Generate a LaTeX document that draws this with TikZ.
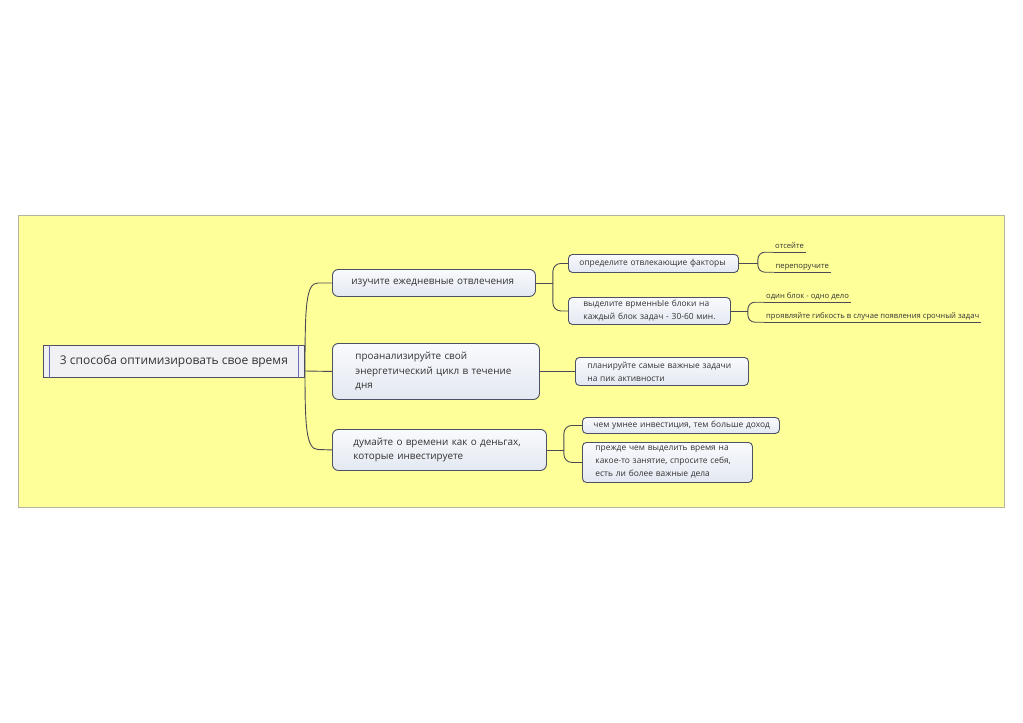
\documentclass[tikz,border=0pt]{standalone}
\usepackage{fontspec}
\setmainfont{Open Sans}
\definecolor{bgyellow}{HTML}{FFFF99}
\definecolor{bgline}{HTML}{B4B4A0}
\definecolor{boxline}{HTML}{4C5164}
\definecolor{boxtop}{HTML}{F9FAFD}
\definecolor{boxbot}{HTML}{E3E8F1}
\definecolor{rootfill}{HTML}{F1F1F3}
\definecolor{rootbar}{HTML}{6C6CB0}
\definecolor{linec}{HTML}{4A4A55}
\definecolor{txt}{HTML}{333333}
\begin{document}
\begin{tikzpicture}[x=1pt,y=-1pt,
  conn/.style={draw=linec, line width=0.9pt},
  root/.style={draw=boxline, line width=0.9pt, fill=rootfill, inner sep=0pt,
    font=\fontsize{12}{14}\selectfont, text=txt, anchor=north west},
  topic/.style={draw=boxline, line width=0.9pt, rounded corners=6pt,
    top color=boxtop, bottom color=boxbot, inner ysep=0pt, align=left,
    anchor=north west, text=txt, font=\fontsize{9.9}{14.5}\selectfont},
  sub/.style={topic, rounded corners=4pt, font=\fontsize{8.4}{13}\selectfont},
  leaf/.style={inner xsep=2pt, inner ysep=2pt, text depth=1.5pt, anchor=base west,
    text=txt, font=\fontsize{7.65}{9}\selectfont}]
\useasboundingbox (0,0) rectangle (1023,723);
\fill[white] (0,0) rectangle (1023,723);
\draw[fill=bgyellow, draw=bgline, line width=0.8pt] (18,215) rectangle (1004,507);

% root
\node[root, minimum width=261pt, minimum height=32pt] (root) at (43,345)
  {3 способа оптимизировать свое время};
\draw[draw=rootbar, line width=0.9pt] ([xshift=6pt]root.north west) -- ([xshift=6pt]root.south west);
\draw[draw=rootbar, line width=0.9pt] ([xshift=-6pt]root.north east) -- ([xshift=-6pt]root.south east);

% level 1
\node[topic, text width=165pt, inner xsep=19pt, minimum height=27pt] (n1) at (332,269)
  {\mbox{изучите ежедневные отвлечения}};
\node[topic, text width=161pt, inner xsep=23pt, minimum height=56pt] (n2) at (332,343)
  {\mbox{проанализируйте свой}\\\mbox{энергетический цикл в течение}\\\mbox{дня}};
\node[topic, text width=172pt, inner xsep=21pt, minimum height=41pt] (n3) at (332,429)
  {\mbox{думайте о времени как о деньгах,}\\\mbox{которые инвестируете}};

% level 2
\node[sub, text width=148pt, inner xsep=11pt, minimum height=18pt] (a) at (568,254)
  {\mbox{определите отвлекающие факторы}};
\node[sub, text width=132pt, inner xsep=15pt, minimum height=27pt] (b) at (568,297)
  {\mbox{выделите врменнЫе блоки на}\\\mbox{каждый блок задач - 30-60 мин.}};
\node[sub, text width=149pt, inner xsep=12pt, minimum height=28pt] (p) at (575,357)
  {\mbox{планируйте самые важные задачи}\\\mbox{на пик активности}};
\node[sub, text width=175pt, inner xsep=11pt, minimum height=16pt] (c) at (582,417)
  {\mbox{чем умнее инвестиция, тем больше доход}};
\node[sub, text width=144pt, inner xsep=13pt, minimum height=40pt] (d) at (582,442)
  {\mbox{прежде чем выделить время на}\\\mbox{какое-то занятие, спросите себя,}\\\mbox{есть ли более важные дела}};

% level 3
\node[leaf] (l1) at (773,248.5) {отсейте};
\node[leaf] (l2) at (773.5,268.5) {перепоручите};
\node[leaf] (l3) at (764,298.5) {один блок - одно дело};
\node[leaf] (l4) at (764,318.5) {проявляйте гибкость в случае появления срочный задач};
\foreach \l in {l1,l2,l3,l4} \draw[conn] (\l.south west) -- (\l.south east);

% root connectors
\coordinate (rj) at (305,371);
\draw[conn] (root.east) -- (305,361);
\draw[conn] (rj) -- (n2.west);
\draw[conn] (rj) .. controls (305,305) and (306,283) .. (318,283) -- (n1.west);
\draw[conn] (rj) .. controls (305,425) and (306,449.5) .. (318,449.5) -- (n3.west);

% level 1 -> level 2
\path (n1.east) ++(17,0) coordinate (j1);
\draw[conn] (n1.east) -- (j1);
\draw[conn, rounded corners=8pt] (j1) |- (a.west);
\draw[conn, rounded corners=8pt] (j1) |- (b.west);
\draw[conn] (n2.east) -- (p.west);
\path (n3.east) ++(17,0) coordinate (j3);
\draw[conn] (n3.east) -- (j3);
\draw[conn, rounded corners=8pt] (j3) |- (c.west);
\draw[conn, rounded corners=8pt] (j3) |- (d.west);

% level 2 -> level 3
\path (a.east) ++(19,0) coordinate (ja);
\draw[conn] (a.east) -- (ja);
\draw[conn, rounded corners=7pt] (ja) |- (l1.south west);
\draw[conn, rounded corners=7pt] (ja) |- (l2.south west);
\path (b.east) ++(17,0) coordinate (jb);
\draw[conn] (b.east) -- (jb);
\draw[conn, rounded corners=7pt] (jb) |- (l3.south west);
\draw[conn, rounded corners=7pt] (jb) |- (l4.south west);
\end{tikzpicture}
\end{document}
